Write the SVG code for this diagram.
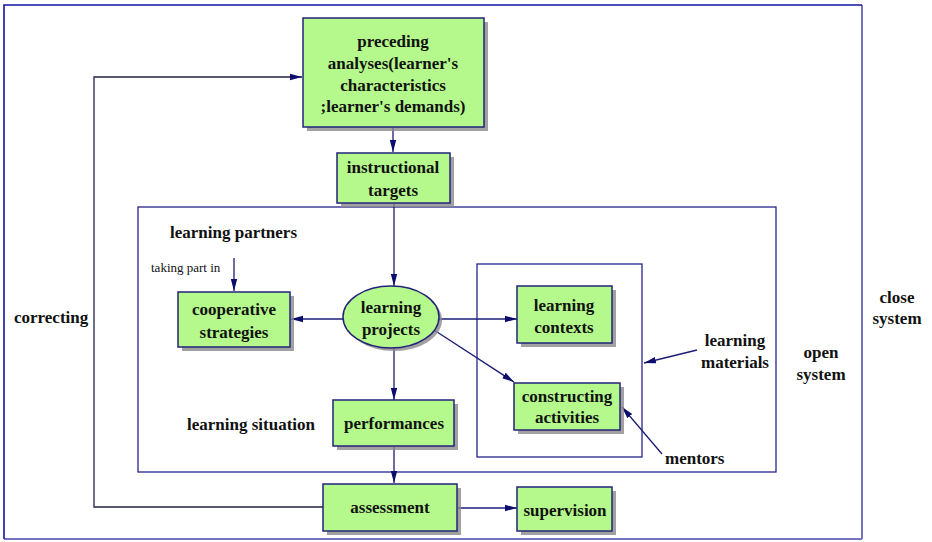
<svg xmlns="http://www.w3.org/2000/svg" width="932" height="542" viewBox="0 0 932 542">
  <style>
    .box { fill: #b5f98c; stroke: #23237a; stroke-width: 1.5; }
    .shadow { fill: #8a8a8a; opacity: 0.8; }
    .frame { fill: none; stroke: #24248a; stroke-width: 1.3; }
    .conn { fill: none; stroke: #1c1c78; stroke-width: 1.3; }
    .loop { fill: none; stroke: #222244; stroke-width: 1.3; }
    text { font-family: "Liberation Serif", "Times New Roman", serif; font-size: 17px; font-weight: bold; fill: #111; text-anchor: middle; }
    .left { text-anchor: start; }
    .small { font-size: 13px; font-weight: normal; text-anchor: start; }
  </style>
  <defs>
    <marker id="arrow" viewBox="0 0 12 8" refX="12" refY="4" markerWidth="12" markerHeight="8" markerUnits="userSpaceOnUse" orient="auto">
      <path d="M0,0.8 L12,4 L0,7.2 Z" fill="#0d0d6e"/>
    </marker>
  </defs>

  <rect width="932" height="542" fill="#ffffff"/>

  <!-- outer "close system" frame -->
  <path d="M862,539 L862,5 M4,539 L862,539" fill="none" stroke="#7674c2" stroke-width="2"/>
  <path d="M4,539 L4,5 L862,5" fill="none" stroke="#1414a0" stroke-width="1.6"/>

  <!-- "open system" frame -->
  <rect class="frame" x="138" y="207" width="638" height="265"/>
  <!-- inner frame around contexts / activities -->
  <rect class="frame" x="477" y="264" width="165" height="193"/>

  <!-- connectors -->
  <g id="connectors">
    <path class="loop" d="M323,507 L94,507 L94,77 L302,77" marker-end="url(#arrow)"/>
    <line class="conn" x1="393" y1="128" x2="393" y2="152" marker-end="url(#arrow)"/>
    <line class="conn" x1="394" y1="204" x2="394" y2="286" marker-end="url(#arrow)"/>
    <line class="conn" x1="234" y1="258" x2="234" y2="291" marker-end="url(#arrow)"/>
    <line class="conn" x1="343" y1="319" x2="291" y2="319" marker-end="url(#arrow)"/>
    <line class="conn" x1="439" y1="319" x2="517" y2="319" marker-end="url(#arrow)"/>
    <line class="conn" x1="434" y1="330" x2="514" y2="382" marker-end="url(#arrow)"/>
    <line class="conn" x1="394" y1="348" x2="394" y2="400" marker-end="url(#arrow)"/>
    <line class="conn" x1="394" y1="447" x2="394" y2="483" marker-end="url(#arrow)"/>
    <line class="conn" x1="458" y1="508" x2="517" y2="508" marker-end="url(#arrow)"/>
    <line class="conn" x1="697" y1="350" x2="644" y2="363" marker-end="url(#arrow)"/>
    <line class="conn" x1="662" y1="454" x2="622" y2="407" marker-end="url(#arrow)"/>
  </g>

  <!-- nodes -->
  <g id="preceding-analyses">
    <rect class="shadow" x="307" y="22" width="181" height="109"/>
    <rect class="box" x="303" y="18" width="181" height="109"/>
    <text x="393" y="47">preceding</text>
    <text x="393" y="69">analyses(learner's</text>
    <text x="393" y="91">characteristics</text>
    <text x="393" y="112">;learner's demands)</text>
  </g>

  <g id="instructional-targets">
    <rect class="shadow" x="341" y="157" width="113" height="50"/>
    <rect class="box" x="337" y="153" width="113" height="50"/>
    <text x="393" y="173">instructional</text>
    <text x="393" y="196">targets</text>
  </g>

  <g id="cooperative-strategies">
    <rect class="shadow" x="182" y="296" width="112" height="55"/>
    <rect class="box" x="178" y="292" width="112" height="55"/>
    <text x="234" y="315">cooperative</text>
    <text x="234" y="338">strategies</text>
  </g>

  <g id="learning-projects">
    <ellipse class="shadow" cx="394" cy="320" rx="48" ry="31"/>
    <ellipse class="box" cx="391" cy="317" rx="48" ry="31"/>
    <text x="391" y="313">learning</text>
    <text x="391" y="335">projects</text>
  </g>

  <g id="learning-contexts">
    <rect class="shadow" x="521" y="290" width="95" height="57"/>
    <rect class="box" x="517" y="286" width="95" height="57"/>
    <text x="564" y="311">learning</text>
    <text x="564" y="333">contexts</text>
  </g>

  <g id="constructing-activities">
    <rect class="shadow" x="518" y="387" width="106" height="47"/>
    <rect class="box" x="514" y="383" width="106" height="47"/>
    <text x="567" y="402">constructing</text>
    <text x="567" y="423">activities</text>
  </g>

  <g id="performances">
    <rect class="shadow" x="337" y="404" width="121" height="46"/>
    <rect class="box" x="333" y="400" width="121" height="46"/>
    <text x="394" y="429">performances</text>
  </g>

  <g id="assessment">
    <rect class="shadow" x="327" y="488" width="134" height="47"/>
    <rect class="box" x="323" y="484" width="134" height="47"/>
    <text x="390" y="513">assessment</text>
  </g>

  <g id="supervision">
    <rect class="shadow" x="521" y="491" width="95" height="44"/>
    <rect class="box" x="517" y="487" width="95" height="44"/>
    <text x="565" y="516">supervision</text>
  </g>

  <!-- free labels -->
  <g id="labels">
    <text class="left" x="170" y="238">learning partners</text>
    <text class="small" x="151" y="272">taking part in</text>
    <text class="left" x="187" y="430">learning situation</text>
    <text x="735" y="346">learning</text>
    <text x="735" y="368">materials</text>
    <text class="left" x="665" y="464">mentors</text>
    <text x="821" y="358">open</text>
    <text x="821" y="380">system</text>
    <text x="897" y="303">close</text>
    <text x="897" y="324">system</text>
    <text class="left" x="14" y="323">correcting</text>
  </g>
</svg>
